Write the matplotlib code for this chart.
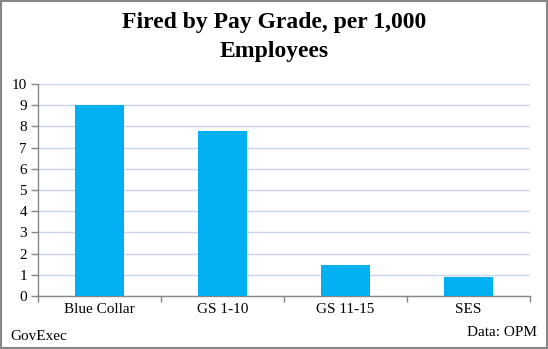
import matplotlib.pyplot as plt
from matplotlib.patches import Rectangle

# fired employees per 1,000, by pay grade
grades = ['Blue Collar', 'GS 1-10', 'GS 11-15', 'SES']
fired_per_1000 = [9.0, 7.8, 1.45, 0.9]

plt.rcParams['font.family'] = ['Liberation Serif', 'DejaVu Serif']

fig = plt.figure(figsize=(5.48, 3.49), dpi=100)
ax = fig.add_axes([38 / 548, 53 / 349, 492 / 548, 212 / 349])

x = range(len(grades))
ax.bar(x, fired_per_1000, width=0.4, color='#00B0F0', zorder=3)

ax.set_xlim(-0.5, len(grades) - 0.5)
ax.set_ylim(0, 10)
ax.set_yticks(range(0, 11))
ax.yaxis.grid(True, color='#C9D5EC', linewidth=1, zorder=0)

ax.set_xticks(list(x))
ax.set_xticklabels(grades, fontsize=11)
ax.set_xticks([i - 0.5 for i in range(len(grades) + 1)], minor=True)
ax.tick_params(axis='x', which='major', length=0, pad=5)
ax.tick_params(axis='x', which='minor', length=4, color='#868686', width=1)
ax.tick_params(axis='y', length=5, color='#868686', width=1, labelsize=11, pad=3)

for side in ['top', 'right']:
    ax.spines[side].set_visible(False)
for side in ['left', 'bottom']:
    ax.spines[side].set_color('#868686')
    ax.spines[side].set_linewidth(1)

fig.text(0.5, 1 - 37 / 349, 'Fired by Pay Grade, per 1,000\nEmployees', ha='center', va='center',
         fontsize=17, fontweight='bold', linespacing=1.45)
fig.text(10 / 548, 1 - 337 / 349, 'GovExec', ha='left', va='center', fontsize=11)
fig.text(537 / 548, 1 - 332 / 349, 'Data: OPM', ha='right', va='center', fontsize=11)

# outer frame around the whole chart
fig.patches.append(Rectangle((0.002, 0.003), 0.996, 0.994, transform=fig.transFigure,
                             fill=False, edgecolor='#868686', linewidth=1.5))

fig.savefig('out.png', dpi=100)
